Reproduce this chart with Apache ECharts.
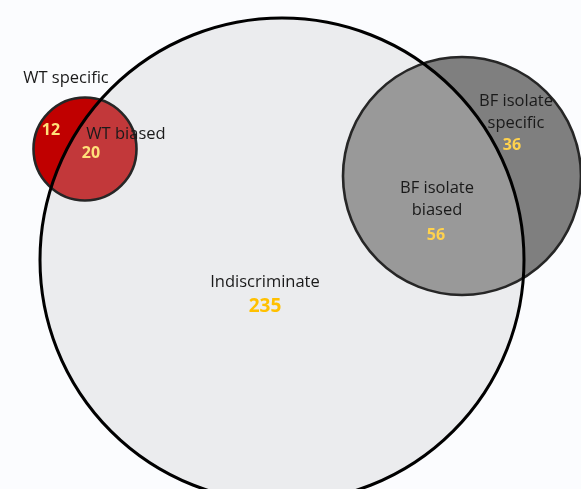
<!DOCTYPE html>
<html>
<head>
<meta charset="utf-8">
<script src="https://cdn.jsdelivr.net/npm/echarts@6/dist/echarts.min.js"></script>
<style>html,body{margin:0;padding:0;background:#fbfcfe;}#c{width:581px;height:489px;}</style>
</head>
<body>
<div id="c"></div>
<script>
// ---- data ----
const setNames = ['Indiscriminate', 'WT', 'BF isolate'];
const regionNames = ['WT specific', 'WT biased', 'BF isolate\nspecific', 'BF isolate\nbiased', 'Indiscriminate'];
const regionCounts = [12, 20, 36, 56, 235];

// ---- layout (chart units, y downward) ----
const circleLayout = [
  { cx: 282, cy: 260, r: 242 },  // Indiscriminate
  { cx: 85,  cy: 149, r: 51.5 }, // WT
  { cx: 462, cy: 176, r: 119 }   // BF isolate
];
const circleStyle = [
  { outer: '#ebecee', inner: null },
  { outer: '#c00000', inner: '#c2383a' },
  { outer: '#7f7f7f', inner: '#999999' }
];
const nameLayout = [[66, 78], [126, 134], [516, 112], [437, 199], [265, 282]];
const countLayout = [[51, 130], [91, 153], [512, 145], [436, 235], [265, 307]];
const countColors = ['#ffe07a', '#ffe07a', '#ffd24d', '#ffd24d', '#ffc000'];

function norm(a) { while (a > Math.PI) a -= 2 * Math.PI; while (a <= -Math.PI) a += 2 * Math.PI; return a; }

function lensPoints(A, B) {
  const dx = B.x - A.x, dy = B.y - A.y, d = Math.hypot(dx, dy);
  const a = (A.r * A.r - B.r * B.r + d * d) / (2 * d);
  const h = Math.sqrt(Math.max(A.r * A.r - a * a, 0));
  const mx = A.x + a * dx / d, my = A.y + a * dy / d;
  const p1 = [mx - h * dy / d, my + h * dx / d];
  const p2 = [mx + h * dy / d, my - h * dx / d];
  const pts = [];
  const n = 80;
  const phi = Math.atan2(dy, dx);
  const a1 = norm(Math.atan2(p1[1] - A.y, p1[0] - A.x) - phi);
  const a2 = norm(Math.atan2(p2[1] - A.y, p2[0] - A.x) - phi);
  for (let k = 0; k <= n; k++) { const t = phi + a1 + (a2 - a1) * k / n; pts.push([A.x + A.r * Math.cos(t), A.y + A.r * Math.sin(t)]); }
  const psi = Math.atan2(-dy, -dx);
  const b2 = norm(Math.atan2(p2[1] - B.y, p2[0] - B.x) - psi);
  const b1 = norm(Math.atan2(p1[1] - B.y, p1[0] - B.x) - psi);
  for (let k = 0; k <= n; k++) { const t = psi + b2 + (b1 - b2) * k / n; pts.push([B.x + B.r * Math.cos(t), B.y + B.r * Math.sin(t)]); }
  return pts;
}

function toPx(api, c) {
  const p = api.coord([c.cx, c.cy]);
  const r = api.size([c.r, 0])[0];
  return { x: p[0], y: p[1], r: r };
}

const circleData = circleLayout.map((c, i) => ({ name: setNames[i], value: [c.cx, c.cy, c.r] }));

const chart = echarts.init(document.getElementById('c'), null, { renderer: 'canvas' });
chart.setOption({
  backgroundColor: '#fbfcfe',
  animation: false,
  grid: { left: 0, right: 0, top: 0, bottom: 0 },
  xAxis: { type: 'value', min: 0, max: 581, show: false },
  yAxis: { type: 'value', min: 0, max: 489, inverse: true, show: false },
  series: [
    {
      type: 'custom', z: 1, data: [circleData[0]],
      renderItem: function (params, api) {
        const P = toPx(api, circleLayout[0]);
        return { type: 'circle', shape: { cx: P.x, cy: P.y, r: P.r }, style: { fill: circleStyle[0].outer, stroke: null } };
      }
    },
    {
      type: 'custom', z: 2, data: circleData.slice(1),
      renderItem: function (params, api) {
        const idx = params.dataIndex + 1;
        const C = toPx(api, circleLayout[idx]);
        const Big = toPx(api, circleLayout[0]);
        const pts = lensPoints(C, Big);
        return {
          type: 'group',
          children: [
            { type: 'circle', z2: 1, shape: { cx: C.x, cy: C.y, r: C.r }, style: { fill: circleStyle[idx].outer, stroke: null } },
            { type: 'polygon', z2: 2, shape: { points: pts }, style: { fill: circleStyle[idx].inner, stroke: null } },
            { type: 'circle', z2: 3, shape: { cx: C.x, cy: C.y, r: C.r }, style: { fill: null, stroke: '#262626', lineWidth: 2.6 } }
          ]
        };
      }
    },
    {
      type: 'custom', z: 3, data: [circleData[0]],
      renderItem: function (params, api) {
        const P = toPx(api, circleLayout[0]);
        return { type: 'circle', shape: { cx: P.x, cy: P.y, r: P.r }, style: { fill: null, stroke: '#000000', lineWidth: 3 } };
      }
    },
    {
      type: 'custom', z: 4, data: regionNames.map((n, i) => ({ name: n, value: nameLayout[i] })),
      renderItem: function (params, api) {
        const p = api.coord([api.value(0), api.value(1)]);
        return { type: 'text', x: p[0], y: p[1], style: { text: regionNames[params.dataIndex], fill: '#1a1a1a', font: '16.5px "Open Sans", sans-serif', align: 'center', verticalAlign: 'middle', lineHeight: 22 } };
      }
    },
    {
      type: 'custom', z: 4, data: regionCounts.map((v, i) => ({ name: String(v), value: countLayout[i] })),
      renderItem: function (params, api) {
        const p = api.coord([api.value(0), api.value(1)]);
        const big = params.dataIndex === 4;
        return { type: 'text', x: p[0], y: p[1], style: { text: String(regionCounts[params.dataIndex]), fill: countColors[params.dataIndex], font: 'bold ' + (big ? 19 : 16) + 'px "Open Sans", sans-serif', align: 'center', verticalAlign: 'middle' } };
      }
    }
  ]
});
</script>
</body>
</html>
